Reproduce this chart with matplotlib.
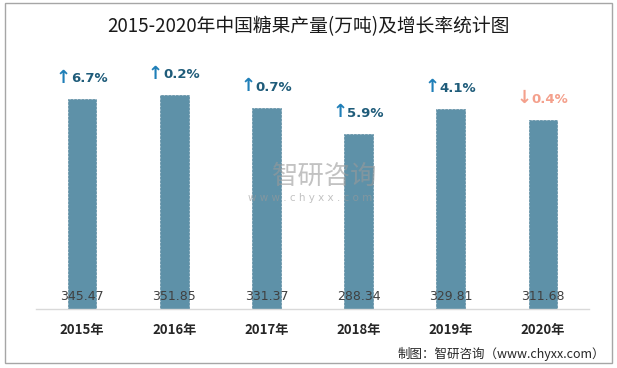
import matplotlib
matplotlib.use("Agg")
import matplotlib.pyplot as plt
from matplotlib.patches import Rectangle

plt.rcParams['font.family'] = ['Noto Sans CJK SC', 'DejaVu Sans']

years = ['2015年', '2016年', '2017年', '2018年', '2019年', '2020年']
production = [345.47, 351.85, 331.37, 288.34, 329.81, 311.68]
growth = [6.7, 0.2, 0.7, 5.9, 4.1, -0.4]
growth_up = [True, True, True, True, True, False]

fig = plt.figure(figsize=(6.17, 3.68), dpi=100)
ax = fig.add_axes([36/617, 1 - 309/368, (589-36)/617, (309-60)/368])

x = list(range(len(years)))
ax.bar(x, production, width=0.31, color='#5E91A8', edgecolor='#5A8AA0',
       linewidth=0.5, linestyle='--', zorder=2)
ax.set_xlim(-0.5, len(years) - 0.5)
ax.set_ylim(0, 410)
ax.set_yticks([])
ax.set_xticks([])
for s in ['top', 'right', 'left']:
    ax.spines[s].set_visible(False)
ax.spines['bottom'].set_color('#D9D9D9')
ax.spines['bottom'].set_linewidth(1.0)

for xi, v in zip(x, production):
    ax.text(xi, 20, f'{v:.2f}', ha='center', va='center', fontsize=9,
            color='#404040', family=['DejaVu Sans'], zorder=3)

for xi, y in zip(x, years):
    ax.annotate(y, (xi, 0), xytext=(0, -15), textcoords='offset points',
                ha='center', va='center', fontsize=9.5, fontweight='bold',
                color='#262626')

for xi, v, g, up in zip(x, production, growth, growth_up):
    if up:
        acol, tcol, arrow = '#1F7FB8', '#1F5C7A', '↑'
    else:
        acol, tcol, arrow = '#F4A08C', '#F4A08C', '↓'
    ax.annotate(arrow, (xi, v), xytext=(-8, 9), textcoords='offset points',
                ha='right', va='bottom', fontsize=13, fontweight='bold', color=acol,
                family=['DejaVu Sans'])
    ax.annotate(f'{abs(g):.1f}%', (xi, v), xytext=(-8, 10), textcoords='offset points',
                ha='left', va='bottom', fontsize=9.5, fontweight='bold', color=tcol,
                family=['DejaVu Sans'])

# title
fig.text(0.5, 1 - 27/368, '2015-2020年中国糖果产量(万吨)及增长率统计图',
         ha='center', va='center', fontsize=13.5, color='#1A1A1A')

# watermark
fig.text(325/617, 1 - 176/368, '智研咨询', ha='center', va='center',
         fontsize=19, color='#9A9A9A', alpha=0.6)
fig.text(310/617, 1 - 198/368, 'w w w . c h y x x . c o m', ha='center', va='center',
         fontsize=7.5, color='#9A9A9A', alpha=0.6, family=['DejaVu Sans'])

# source
fig.text(605/617, 1 - 354/368, '制图：智研咨询（www.chyxx.com）', ha='right', va='center',
         fontsize=9, color='#262626')

# border
fig.patches.append(Rectangle((5/617, 5/368), 607/617, 360/368, transform=fig.transFigure,
                             fill=False, edgecolor='#A6A6A6', linewidth=1.0))

fig.savefig('out.png', dpi=100)
